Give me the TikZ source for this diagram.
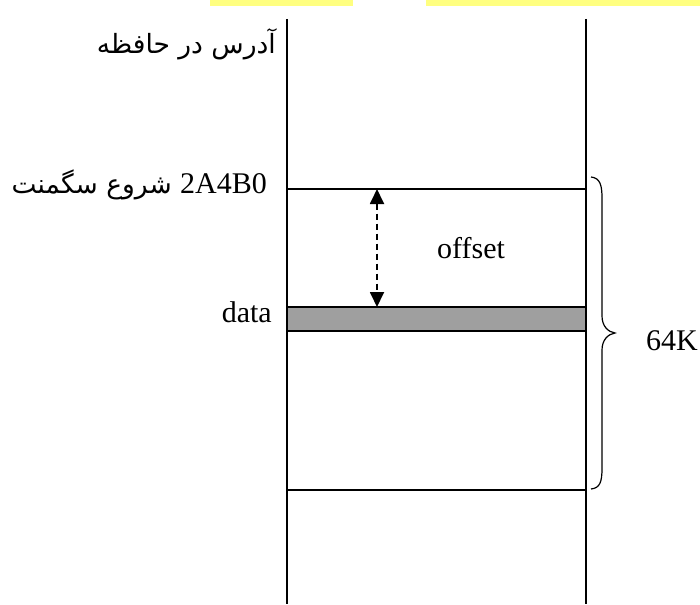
\documentclass[tikz,border=0pt]{standalone}
\usepackage{fontspec}
\setmainfont{Liberation Serif}
\newfontfamily\arabicfont[Script=Arabic]{DejaVu Sans}
\TeXXeTstate=1
\usetikzlibrary{arrows.meta}
\definecolor{marker}{HTML}{FFFF80}
\definecolor{cellgray}{HTML}{9F9F9F}
\begin{document}
\begin{tikzpicture}[x=1pt,y=-1pt,
  wall/.style={line width=2pt},
  cell/.style={draw=black, fill=cellgray, line width=2pt, inner sep=0pt,
    minimum width=299pt, minimum height=24pt},
  gap/.style={line width=1.8pt, dash pattern=on 6pt off 4pt,
    {Triangle[width=14pt,length=15pt]}-{Triangle[width=14pt,length=15pt]}},
  bracket/.style={line width=1.2pt},
  lbl/.style={font=\fontsize{30}{36}\selectfont, inner sep=0pt},
  fa/.style={font=\fontsize{26.5}{32}\selectfont\arabicfont, inner sep=0pt}]
\useasboundingbox (0,0) rectangle (700,604);

% highlighted strips along the top edge
\fill[marker] (210,0) rectangle (353,6);
\fill[marker] (426,0) rectangle (700,6);

% memory column
\coordinate (lt) at (287,19);  \coordinate (lb) at (287,604);
\coordinate (rt) at (586,19);  \coordinate (rb) at (586,604);
\draw[wall] (lt) -- (lb);
\draw[wall] (rt) -- (rb);

% segment boundaries
\coordinate (s1) at (287,189); \coordinate (s2) at (586,189);
\coordinate (e1) at (287,490); \coordinate (e2) at (586,490);
\draw[wall] (s1) -- (s2);
\draw[wall] (e1) -- (e2);

% the data cell
\node[cell] (cell) at (436.5,319) {};

% offset arrow
\coordinate (ot) at (377,189);
\coordinate (ob) at (377,307);
\draw[gap] (ot) -- (ob);

% 64K brace
\draw[bracket] (591,177) .. controls (600,178) and (602,185) .. (602,198)
  -- (602,316) .. controls (602,326) and (608,332) .. (615,333)
  .. controls (608,334) and (602,340) .. (602,350)
  -- (602,468) .. controls (602,482) and (600,488) .. (591,489);

% labels
\node[fa, anchor=base east] (addr) at (276,54) {\beginR آدرس در حافظه\endR};
\node[lbl, anchor=base east] (start) at (267,193) {2A4B0};
\node[fa, anchor=base east] (startfa) at ([xshift=-8pt]start.base west) {\beginR شروع سگمنت\endR};
\node[lbl, anchor=base west] (off) at (437,258) {offset};
\node[lbl, anchor=base east] (data) at (272,322) {data};
\node[lbl, anchor=base west] (size) at (646,350) {64K};
\end{tikzpicture}
\end{document}
